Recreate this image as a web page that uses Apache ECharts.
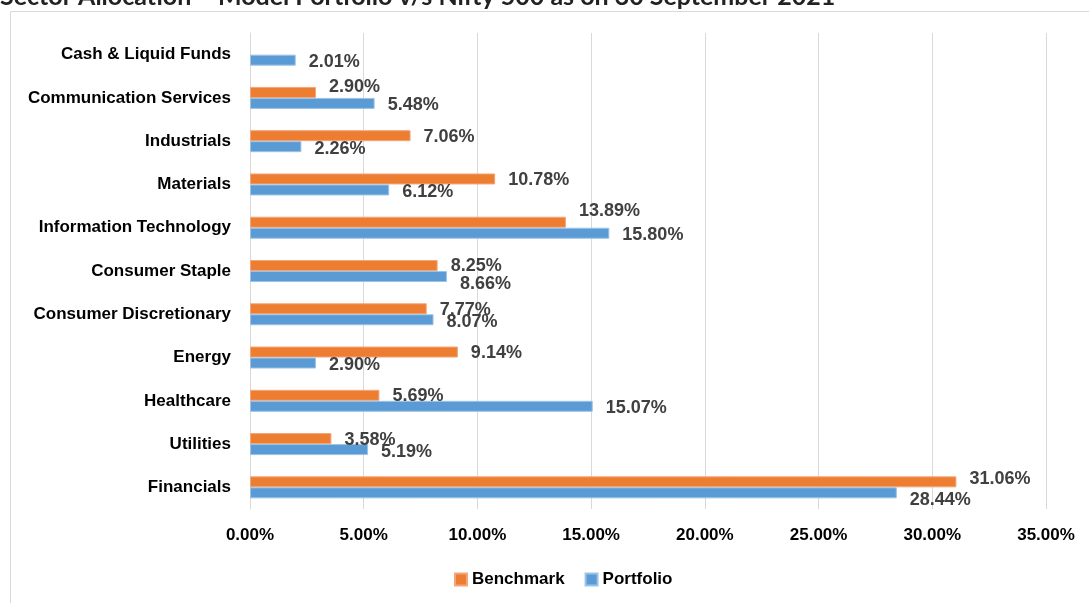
<!DOCTYPE html>
<html><head><meta charset="utf-8">
<script src="https://cdn.jsdelivr.net/npm/echarts@6/dist/echarts.min.js"></script>
<style>html,body{margin:0;padding:0;background:#fff;}#c{width:1089px;height:603px;}</style>
</head><body><div id="c"></div>
<script>
var categories = ["Cash & Liquid Funds","Communication Services","Industrials","Materials","Information Technology","Consumer Staple","Consumer Discretionary","Energy","Healthcare","Utilities","Financials"];
var benchmark = [null,2.90,7.06,10.78,13.89,8.25,7.77,9.14,5.69,3.58,31.06];
var portfolio = [2.01,5.48,2.26,6.12,15.80,8.66,8.07,2.90,15.07,5.19,28.44];
var xTicks = [0,5,10,15,20,25,30,35];
var titleText = "Sector Allocation \u2013 Model Portfolio v/s Nifty 500 as on 30 September 2021";

// label vertical nudges (style only), by category index
var benchLabelDy = {1:-5, 4:-11, 10:-3};
var portLabelDy = {5:8, 10:7};

var chart = echarts.init(document.getElementById('c'));
function makeData(vals, dyMap, baseDy){
  return vals.map(function(v,i){
    var dy = (i in dyMap) ? dyMap[i] : baseDy;
    return {value:v, label:{offset:[0,dy]}};
  });
}
function lbl(){
  return {show:true, position:'right', distance:13, color:'#404040',
    fontFamily:'Liberation Sans', fontWeight:'bold', fontSize:18,
    formatter:function(p){return p.value==null?'':p.value.toFixed(2)+'%';}};
}
chart.setOption({
  animation:false,
  graphic:[
    {type:'rect', shape:{x:10.5,y:11.5,width:1100,height:620}, style:{fill:'none',stroke:'#D9D9D9',lineWidth:1}},
    {type:'text', left:0, top:-16, style:{text:titleText, font:'bold 25px Lato', fill:'#222'}}
  ],
  legend:{data:['Benchmark','Portfolio'], top:566, left:449, itemWidth:12, itemHeight:12, itemGap:20,
    icon:'rect', textStyle:{fontFamily:'Liberation Sans', fontWeight:'bold', fontSize:17, color:'#000'}},
  grid:{left:250, right:43, top:33, bottom:94, containLabel:false},
  xAxis:{type:'value', min:xTicks[0], max:xTicks[xTicks.length-1], interval:5,
    axisLine:{show:false}, axisTick:{show:false},
    splitLine:{lineStyle:{color:'#D9D9D9'}},
    axisLabel:{margin:18, color:'#000', fontFamily:'Liberation Sans', fontWeight:'bold', fontSize:17,
      formatter:function(v){return v.toFixed(2)+'%';}}},
  yAxis:{type:'category', data:categories, inverse:true,
    axisLine:{show:true, lineStyle:{color:'#D9D9D9'}}, axisTick:{show:false},
    axisLabel:{margin:19, color:'#000', fontFamily:'Liberation Sans', fontWeight:'bold', fontSize:17}},
  series:[
    {name:'Benchmark', type:'bar', data:makeData(benchmark, benchLabelDy, 1), barWidth:11, barGap:'0%',
      itemStyle:{color:'#ED7D31', borderColor:'#F4A57A', borderWidth:1}, label:lbl()},
    {name:'Portfolio', type:'bar', data:makeData(portfolio, portLabelDy, 2), barWidth:11, barGap:'0%',
      itemStyle:{color:'#5B9BD5', borderColor:'#9CC3E6', borderWidth:1}, label:lbl()}
  ]
});
</script></body></html>
